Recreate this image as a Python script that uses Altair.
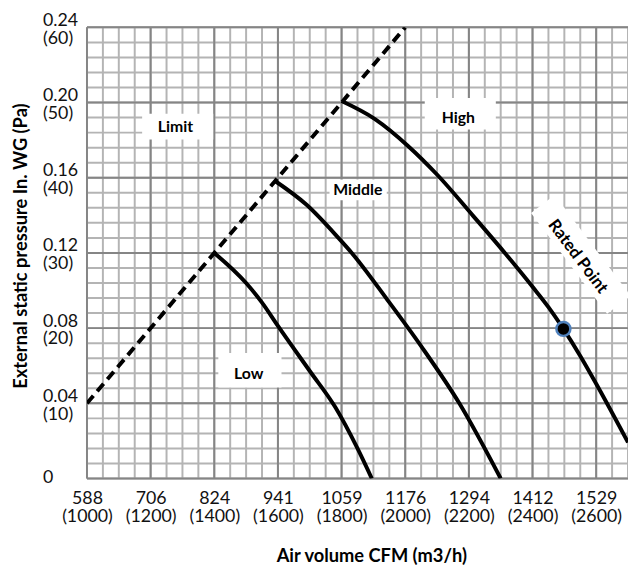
import altair as alt
import pandas as pd

# ---------------- data ----------------
# x in m3/h, y in Pa
x_m3h = [1000, 1200, 1400, 1600, 1800, 2000, 2200, 2400, 2600]
x_cfm = ["588", "706", "824", "941", "1059", "1176", "1294", "1412", "1529"]
y_pa = [0, 10, 20, 30, 40, 50, 60]
y_inwg = ["0", "0.04", "0.08", "0.12", "0.16", "0.20", "0.24"]

limit_x = [1000, 2000]
limit_y = [10, 60]

low_x = [1400, 1500, 1550, 1600, 1700, 1780, 1850, 1895]
low_y = [30.0, 26.0, 23.4, 20.3, 14.3, 9.5, 4.0, 0.0]

mid_x = [1590, 1690, 1790, 1832, 1945, 2050, 2170, 2300]
mid_y = [39.6, 36.4, 32.0, 30.0, 23.7, 17.6, 10.0, 0.0]

high_x = [1800, 1905, 2007, 2105, 2214, 2317, 2400, 2450, 2497, 2550, 2600, 2700]
high_y = [50.2, 47.8, 44.3, 40.2, 34.9, 29.8, 25.5, 22.8, 19.9, 16.3, 12.6, 4.8]

rated_x = [2497]
rated_y = [19.9]

labels = ["Limit", "High", "Middle", "Low"]
label_x = [1278, 2167, 1851, 1508]
label_y = [46.8, 47.9, 38.4, 13.9]

rated_label_x = [2542]
rated_label_y = [29.5]

# grid positions (minor every 50 m3/h and 2 Pa, major every 200 m3/h and 10 Pa)
x_minor = list(range(1000, 2701, 50))
x_major = list(range(1000, 2601, 200))
y_minor = list(range(0, 61, 2))
y_major = list(range(0, 61, 10))

# ---------------- axes ----------------
def chain(vals, labs, multiline, fallback):
    expr = fallback
    for v, lab in reversed(list(zip(vals, labs))):
        if multiline(v):
            out = "['%s', '(%d)']" % (lab[0], lab[1])
        else:
            out = "'%s'" % lab[0]
        expr = "datum.value == %s ? %s : (%s)" % (v, out, expr)
    return expr

x_expr = chain(x_m3h, list(zip(x_cfm, x_m3h)), lambda v: True, "''")
y_expr = chain(y_pa, list(zip(y_inwg, y_pa)), lambda v: v != 0, "''")

FONT = "Lato"
xaxis = alt.Axis(
    values=x_m3h, labelExpr=x_expr, labelFont=FONT, labelFontSize=18,
    labelColor="#111111", labelLineHeight=19, labelPadding=11,
    labelFlush=False, labelOverlap=False, ticks=False, domain=False, grid=False,
    title="Air volume CFM (m3/h)", titleFont=FONT, titleFontSize=18.5,
    titleFontWeight="bold", titleColor="black", titleX=288, titleY=78,
    titleBaseline="middle", titleAlign="center",
)
yaxis = alt.Axis(
    values=y_pa, labelExpr=y_expr, labelFont=FONT, labelFontSize=18,
    labelColor="#111111", labelLineHeight=18, labelPadding=45,
    labelAlign="left",
    labelOffset={"condition": {"test": "datum.value == 0", "value": -1}, "value": -7},
    labelFlush=False, labelOverlap=False, ticks=False, domain=False, grid=False,
    title="External static pressure In. WG (Pa)", titleFont=FONT,
    titleFontSize=18.5, titleFontWeight="bold", titleColor="black",
    titleX=-67, titleY=221, titleAngle=270, titleBaseline="middle",
    titleAlign="center",
)

xsc = alt.Scale(domain=[1000, 2700], nice=False, zero=False)
ysc = alt.Scale(domain=[0, 60], nice=False, zero=False)
X = alt.X("x:Q", scale=xsc, axis=xaxis)
Y = alt.Y("y:Q", scale=ysc, axis=yaxis)

# ---------------- layers ----------------
vminor = alt.Chart(pd.DataFrame({"x": x_minor})).mark_rule(
    color="#b4b4b4", strokeWidth=2).encode(x=X)
hminor = alt.Chart(pd.DataFrame({"y": y_minor})).mark_rule(
    color="#b4b4b4", strokeWidth=2).encode(y=Y)
vmajor = alt.Chart(pd.DataFrame({"x": x_major})).mark_rule(
    color="#858585", strokeWidth=2).encode(x=X)
hmajor = alt.Chart(pd.DataFrame({"y": y_major})).mark_rule(
    color="#858585", strokeWidth=2).encode(y=Y)

def box(xv, yv, w, h, angle=0):
    r = h / w
    path = "M-1,-%.4f L1,-%.4f L1,%.4f L-1,%.4f Z" % (r, r, r, r)
    return alt.Chart(pd.DataFrame({"x": [xv], "y": [yv]})).mark_point(
        shape=path, size=w * w, filled=True, fill="white", opacity=1,
        strokeWidth=0, angle=angle).encode(x=X, y=Y)

boxes = [
    box(1285, 46.8, 72, 26),
    box(2173, 48.5, 72, 32),
    box(1852, 38.4, 58, 21),
    box(1512, 14.4, 64, 35),
    box(2552, 29.8, 128, 30, angle=53),
]

limit = alt.Chart(pd.DataFrame({"x": limit_x, "y": limit_y})).mark_line(
    color="black", strokeWidth=4, strokeDash=[10, 6], clip=True).encode(x=X, y=Y)

curve_df = pd.concat([
    pd.DataFrame({"x": low_x, "y": low_y, "s": "Low"}),
    pd.DataFrame({"x": mid_x, "y": mid_y, "s": "Middle"}),
    pd.DataFrame({"x": high_x, "y": high_y, "s": "High"}),
])
curves = alt.Chart(curve_df).mark_line(
    color="black", strokeWidth=4, interpolate="monotone", clip=True
).encode(x=X, y=Y, detail="s:N", order=alt.Order("x:Q"))

texts = alt.Chart(pd.DataFrame({"x": label_x, "y": label_y, "t": labels})).mark_text(
    font=FONT, fontSize=16, fontWeight="bold", color="black"
).encode(x=X, y=Y, text="t:N")

rated_text = alt.Chart(pd.DataFrame({"x": rated_label_x, "y": rated_label_y,
                                     "t": ["Rated Point"]})).mark_text(
    font=FONT, fontSize=17, fontWeight="bold", color="black", angle=53
).encode(x=X, y=Y, text="t:N")

rated = alt.Chart(pd.DataFrame({"x": rated_x, "y": rated_y})).mark_point(
    shape="circle", filled=True, fill="black", stroke="#4f81bd",
    strokeWidth=2.5, size=200, opacity=1
).encode(x=X, y=Y)

chart = alt.layer(
    vminor, hminor, vmajor, hmajor, *boxes, limit, curves, texts, rated_text, rated
).properties(
    width=548, height=457,
    autosize=alt.AutoSizeParams(type="none"),
    padding={"left": 80, "top": 16, "right": 0, "bottom": 85},
    background="white",
).configure_view(stroke=None)

chart.save("out.html", embed_options={"renderer": "svg", "actions": False})
